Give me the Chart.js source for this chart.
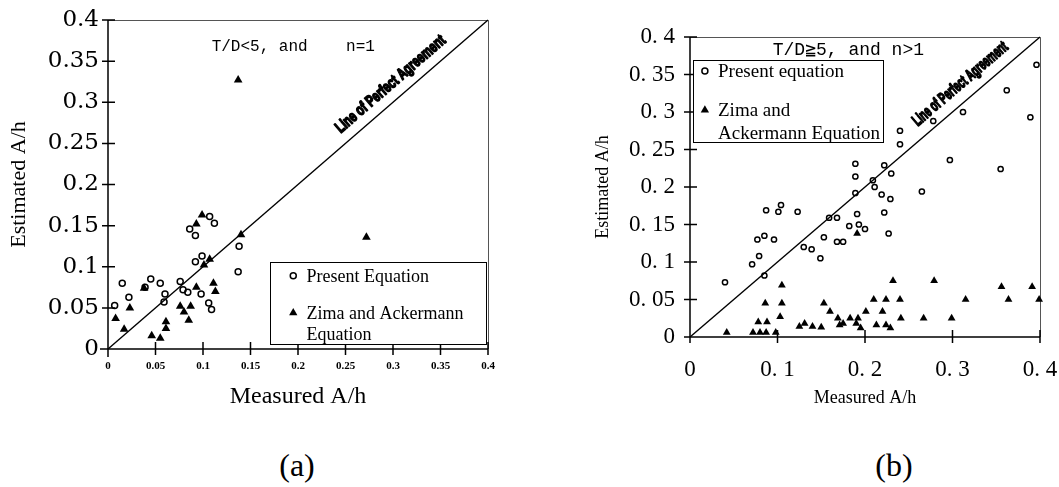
<!DOCTYPE html>
<html lang="en">
<head>
<meta charset="UTF-8">
<title>Estimated vs Measured A/h</title>
<script src="https://cdn.jsdelivr.net/npm/chart.js@4.4.0/dist/chart.umd.min.js"></script>
<style>
    body {
        margin: 0;
        background: #fff;
        width: 1059px;
        height: 487px;
        position: relative;
        overflow: hidden;
        font-family: "Liberation Serif", serif;
    }
    .panel { position: absolute; top: 0; height: 420px; }
    #panelA { left: 0; width: 520px; }
    #panelB { left: 540px; width: 519px; }
    .tag {
        position: absolute;
        top: 449px;
        font-size: 32px;
        line-height: 1;
        color: #000;
        transform: translateX(-50%);
    }
</style>
</head>
<body>
<div class="panel" id="panelA"><canvas id="chartA"></canvas></div>
<div class="panel" id="panelB"><canvas id="chartB"></canvas></div>
<div class="tag" style="left:297px">(a)</div>
<div class="tag" style="left:894px">(b)</div>

<script>
// ---- panel (a): T/D<5, n=1 ----
const aPresentX = [0.007, 0.015, 0.022, 0.039, 0.045, 0.055, 0.060, 0.059, 0.076, 0.079, 0.084, 0.086, 0.092,
                   0.092, 0.099, 0.098, 0.107, 0.112, 0.106, 0.109, 0.138, 0.137];
const aPresentY = [0.053, 0.080, 0.063, 0.075, 0.085, 0.080, 0.067, 0.057, 0.082, 0.072, 0.069, 0.146, 0.138,
                   0.106, 0.113, 0.067, 0.161, 0.153, 0.056, 0.048, 0.125, 0.094];
const aZimaX = [0.008, 0.017, 0.023, 0.038, 0.046, 0.055, 0.061, 0.061, 0.076, 0.080, 0.087, 0.085, 0.093,
                0.093, 0.099, 0.101, 0.107, 0.111, 0.113, 0.140, 0.137, 0.272];
const aZimaY = [0.037, 0.024, 0.050, 0.074, 0.016, 0.013, 0.033, 0.025, 0.052, 0.045, 0.052, 0.035, 0.075,
                0.152, 0.163, 0.102, 0.109, 0.080, 0.070, 0.139, 0.327, 0.136];

// ---- panel (b): T/D>=5, n>1 ----
const bPresentX = [0.040, 0.071, 0.079, 0.077, 0.085, 0.087, 0.085, 0.096, 0.104, 0.101, 0.123, 0.130, 0.139,
                   0.149, 0.153, 0.159, 0.168, 0.168, 0.175, 0.182, 0.189, 0.189, 0.189, 0.191, 0.193, 0.200,
                   0.396, 0.362, 0.389, 0.312, 0.278, 0.240, 0.240, 0.297, 0.355, 0.222, 0.230, 0.209, 0.211,
                   0.219, 0.229, 0.265, 0.222, 0.227];
const bPresentY = [0.073, 0.097, 0.108, 0.130, 0.135, 0.169, 0.082, 0.130, 0.176, 0.167, 0.167, 0.120, 0.117,
                   0.105, 0.133, 0.159, 0.159, 0.127, 0.127, 0.148, 0.231, 0.214, 0.192, 0.164, 0.150, 0.144,
                   0.363, 0.329, 0.293, 0.300, 0.288, 0.275, 0.257, 0.236, 0.224, 0.229, 0.218, 0.209, 0.200,
                   0.190, 0.184, 0.194, 0.166, 0.138];
const bZimaX = [0.042, 0.072, 0.080, 0.087, 0.098, 0.078, 0.088, 0.086, 0.105, 0.105, 0.103, 0.125, 0.131,
                0.140, 0.150, 0.153, 0.160, 0.169, 0.171, 0.175, 0.183, 0.192, 0.190, 0.195, 0.201, 0.191,
                0.210, 0.224, 0.240, 0.220, 0.213, 0.224, 0.229, 0.232, 0.241, 0.267, 0.279, 0.299, 0.315,
                0.356, 0.364, 0.391, 0.399];
const bZimaY = [0.006, 0.006, 0.006, 0.006, 0.006, 0.020, 0.020, 0.045, 0.069, 0.045, 0.027, 0.014, 0.018,
                0.014, 0.013, 0.045, 0.034, 0.025, 0.016, 0.018, 0.025, 0.025, 0.018, 0.012, 0.034, 0.138,
                0.050, 0.050, 0.050, 0.034, 0.016, 0.016, 0.012, 0.075, 0.025, 0.025, 0.075, 0.025, 0.050,
                0.067, 0.050, 0.067, 0.050];

const agreementX = [0, 0.4];
const agreementY = [0, 0.4];

const aTickValues = [0, 0.05, 0.1, 0.15, 0.2, 0.25, 0.3, 0.35, 0.4];
const aTickLabels = ['0', '0.05', '0.1', '0.15', '0.2', '0.25', '0.3', '0.35', '0.4'];
const bYTickValues = [0, 0.05, 0.1, 0.15, 0.2, 0.25, 0.3, 0.35, 0.4];
const bYTickLabels = ['0', '0. 05', '0. 1', '0. 15', '0. 2', '0. 25', '0. 3', '0. 35', '0. 4'];
const bXTickValues = [0, 0.1, 0.2, 0.3, 0.4];
const bXTickLabels = ['0', '0. 1', '0. 2', '0. 3', '0. 4'];

function pairs(xs, ys) {
    return xs.map((x, i) => ({ x: x, y: ys[i] }));
}

function drawMarker(ctx, style, x, y, r) {
    ctx.beginPath();
    if (style === 'circle') {
        ctx.arc(x, y, r, 0, Math.PI * 2);
        ctx.lineWidth = 1.5;
        ctx.stroke();
    } else {
        ctx.moveTo(x, y - r);
        ctx.lineTo(x + r * 0.866, y + r * 0.5);
        ctx.lineTo(x - r * 0.866, y + r * 0.5);
        ctx.closePath();
        ctx.fill();
    }
}

// axes, tick marks, frame, annotation and legend box
const decoPlugin = {
    id: 'deco',
    beforeDatasetsDraw(chart, args, o) {
        const { ctx, chartArea: a, scales: { x, y } } = chart;
        ctx.save();
        ctx.strokeStyle = '#555';
        ctx.lineWidth = 1;
        ctx.beginPath();
        ctx.moveTo(a.left, a.top + 0.5);
        ctx.lineTo(a.right + 0.5, a.top + 0.5);
        ctx.lineTo(a.right + 0.5, a.bottom);
        ctx.stroke();

        ctx.strokeStyle = '#000';
        ctx.lineWidth = 1.5;
        ctx.beginPath();
        ctx.moveTo(a.left, a.top);
        ctx.lineTo(a.left, a.bottom + o.axisOver);
        ctx.moveTo(a.left - o.axisOver, a.bottom);
        ctx.lineTo(a.right, a.bottom);
        y.ticks.forEach(t => {
            const py = y.getPixelForValue(t.value);
            ctx.moveTo(a.left - o.tickOut, py);
            ctx.lineTo(a.left + o.tickIn, py);
        });
        x.ticks.forEach(t => {
            const px = x.getPixelForValue(t.value);
            ctx.moveTo(px, a.bottom - o.tickIn);
            ctx.lineTo(px, a.bottom + o.tickOut);
        });
        ctx.stroke();
        ctx.restore();
    },
    afterDatasetsDraw(chart, args, o) {
        const { ctx, scales: { x, y } } = chart;
        ctx.save();
        ctx.fillStyle = '#000';
        ctx.strokeStyle = '#000';

        // "Line of Perfect Agreement" along the diagonal
        const x0 = x.getPixelForValue(0), y0 = y.getPixelForValue(0);
        const x1 = x.getPixelForValue(0.4), y1 = y.getPixelForValue(0.4);
        const ang = Math.atan2(y1 - y0, x1 - x0);
        ctx.save();
        ctx.translate(x.getPixelForValue(o.lineLabelAt), y.getPixelForValue(o.lineLabelAt));
        ctx.rotate(ang);
        ctx.translate(0, -o.lineLabelGap);
        ctx.font = 'bold 16px "Liberation Sans Narrow", "Liberation Sans", sans-serif';
        const w = ctx.measureText('Line of Perfect Agreement').width;
        ctx.scale(o.lineLabelLen / w, 1);
        ctx.textAlign = 'center';
        ctx.textBaseline = 'middle';
        ctx.lineWidth = 1.6;
        ctx.lineJoin = 'round';
        ctx.strokeText('Line of Perfect Agreement', 0, 0);
        ctx.fillText('Line of Perfect Agreement', 0, 0);
        ctx.restore();

        // condition note
        ctx.font = o.noteFont;
        ctx.textAlign = 'center';
        ctx.textBaseline = 'middle';
        ctx.fillText(o.note, x.getPixelForValue(o.noteAt[0]), y.getPixelForValue(o.noteAt[1]));

        // legend box
        const lg = o.legend;
        const bx0 = x.getPixelForValue(lg.box[0]), by0 = y.getPixelForValue(lg.box[1]);
        const bx1 = x.getPixelForValue(lg.box[2]), by1 = y.getPixelForValue(lg.box[3]);
        ctx.fillStyle = '#fff';
        ctx.fillRect(bx0, by0, bx1 - bx0, by1 - by0);
        ctx.lineWidth = 1;
        ctx.strokeRect(Math.round(bx0) + 0.5, Math.round(by0) + 0.5, Math.round(bx1 - bx0), Math.round(by1 - by0));
        ctx.fillStyle = '#000';
        ctx.font = lg.font;
        ctx.textAlign = 'left';
        const mx = x.getPixelForValue(lg.markerX), tx = x.getPixelForValue(lg.textX);
        lg.rows.forEach(r => {
            const py = y.getPixelForValue(r.y);
            if (r.marker) drawMarker(ctx, r.marker, mx, py, r.marker === 'circle' ? 3 : 4.8);
            ctx.fillText(r.text, tx, py + 1);
        });
        ctx.restore();
    }
};

const black = '#000';

function scatterSets(presentX, presentY, zimaX, zimaY, circleR, triR) {
    return [
        {
            label: 'Line of Perfect Agreement',
            data: pairs(agreementX, agreementY),
            showLine: true,
            borderColor: black,
            borderWidth: 1.4,
            pointRadius: 0
        },
        {
            label: 'Present Equation',
            data: pairs(presentX, presentY),
            pointStyle: 'circle',
            pointRadius: circleR,
            pointBorderWidth: 1.5,
            pointBorderColor: black,
            pointBackgroundColor: 'rgba(255,255,255,0)'
        },
        {
            label: 'Zima and Ackermann Equation',
            data: pairs(zimaX, zimaY),
            pointStyle: 'triangle',
            pointRadius: triR,
            pointBorderWidth: 0,
            pointBorderColor: black,
            pointBackgroundColor: black
        }
    ];
}

// gap between axis and tick labels is done with an invisible tick length,
// so that it doesn't inflate the chart's side padding
function axis(values, labels, fit, tickFont, gap, title, titleFont, titlePad) {
    return {
        min: 0,
        max: 0.4,
        afterBuildTicks: s => { s.ticks = values.map(v => ({ value: v })); },
        afterFit: fit,
        grid: { display: false, drawTicks: true, tickLength: gap },
        border: { display: false },
        ticks: {
            autoSkip: false,
            maxRotation: 0,
            padding: 0,
            color: black,
            font: tickFont,
            callback: (v, i) => labels[i]
        },
        title: { display: true, text: title, color: black, font: titleFont, padding: titlePad }
    };
}

new Chart(document.getElementById('chartA'), {
    type: 'scatter',
    data: { datasets: scatterSets(aPresentX, aPresentY, aZimaX, aZimaY, 3, 5) },
    options: {
        responsive: true,
        maintainAspectRatio: false,
        animation: false,
        events: [],
        clip: false,
        layout: { padding: { left: 0, top: 20, right: 32, bottom: 0 } },
        plugins: {
            legend: { display: false },
            tooltip: { enabled: false },
            deco: {
                axisOver: 8, tickOut: 6, tickIn: 7,
                lineLabelAt: 0.308, lineLabelGap: 15, lineLabelLen: 140,
                note: 'T/D<5, and    n=1',
                noteFont: '16px "Liberation Mono", monospace',
                noteAt: [0.195, 0.368],
                legend: {
                    box: [0.171, 0.106, 0.398, 0.006],
                    markerX: 0.195, textX: 0.209,
                    font: '18px "Liberation Serif", serif',
                    rows: [
                        { y: 0.089, marker: 'circle', text: 'Present Equation' },
                        { y: 0.044, marker: 'triangle', text: 'Zima and Ackermann' },
                        { y: 0.018, text: 'Equation' }
                    ]
                }
            }
        },
        scales: {
            x: axis(aTickValues, aTickLabels, s => { s.height = 71; },
                { family: 'Liberation Serif', size: 11, weight: 'bold' }, 11,
                'Measured A/h', { family: 'Liberation Serif', size: 24 }, { top: 0, bottom: 9 }),
            y: axis(aTickValues, aTickLabels, s => { s.width = 108; },
                { family: 'DejaVu Serif', size: 23 }, 9,
                'Estimated A/h', { family: 'Liberation Serif', size: 22 }, { top: 6, bottom: 0 })
        }
    },
    plugins: [decoPlugin]
});

new Chart(document.getElementById('chartB'), {
    type: 'scatter',
    data: { datasets: scatterSets(bPresentX, bPresentY, bZimaX, bZimaY, 2.6, 4.5) },
    options: {
        responsive: true,
        maintainAspectRatio: false,
        animation: false,
        events: [],
        clip: false,
        layout: { padding: { left: 0, top: 37, right: 19, bottom: 0 } },
        plugins: {
            legend: { display: false },
            tooltip: { enabled: false },
            deco: {
                axisOver: 6, tickOut: 6, tickIn: 7,
                lineLabelAt: 0.321, lineLabelGap: 16, lineLabelLen: 120,
                note: 'T/D\u22675, and n>1',
                noteFont: '18px "Liberation Mono", monospace',
                noteAt: [0.181, 0.383],
                legend: {
                    box: [0.0034, 0.369, 0.2206, 0.26],
                    markerX: 0.017, textX: 0.032,
                    font: '19px "Liberation Serif", serif',
                    rows: [
                        { y: 0.3547, marker: 'circle', text: 'Present equation' },
                        { y: 0.3027, marker: 'triangle', text: 'Zima and' },
                        { y: 0.272, text: 'Ackermann Equation' }
                    ]
                }
            }
        },
        scales: {
            x: axis(bXTickValues, bXTickLabels, s => { s.height = 83; },
                { family: 'Liberation Serif', size: 23 }, 19,
                'Measured A/h', { family: 'Liberation Serif', size: 18 }, { top: 0, bottom: 11 }),
            y: axis(bYTickValues, bYTickLabels, s => { s.width = 150; },
                { family: 'Liberation Serif', size: 23 }, 15,
                'Estimated A/h', { family: 'Liberation Serif', size: 18 }, { top: 52, bottom: 0 })
        }
    },
    plugins: [decoPlugin]
});
</script>
</body>
</html>
